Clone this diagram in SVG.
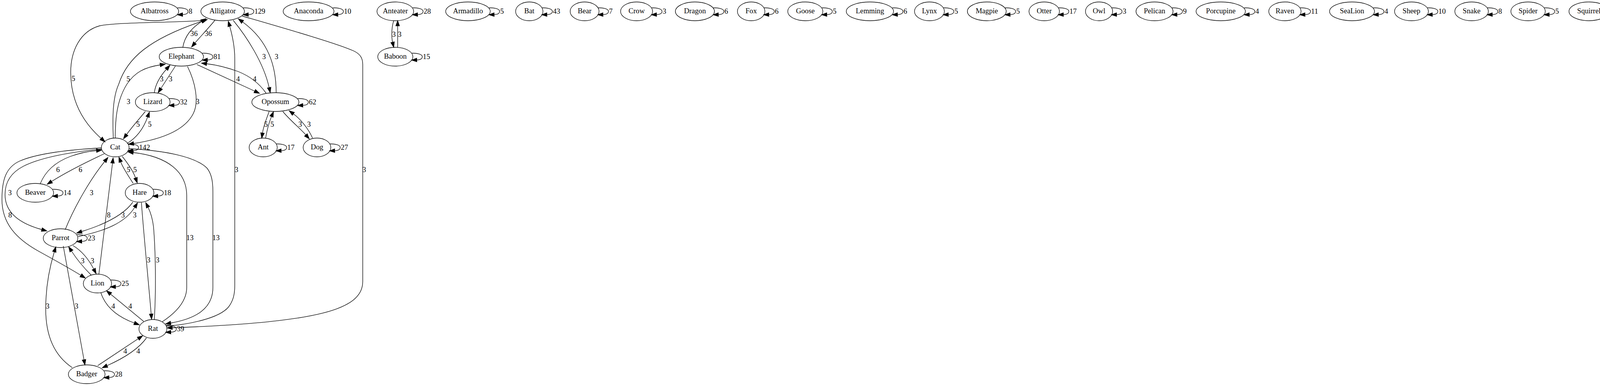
<svg xmlns="http://www.w3.org/2000/svg" xmlns:xlink="http://www.w3.org/1999/xlink" width="4503" height="987" viewBox="0 0 4503 987">
<style>
text{font-family:"Liberation Serif","Times New Roman",serif;font-size:18.67px;fill:#000}
.n ellipse{fill:none;stroke:#000;stroke-width:1.33}
.n text{text-anchor:middle}
.e path{fill:none;stroke:#000;stroke-width:1.33;marker-end:url(#ah)}
.el{text-anchor:middle}
.ll{text-anchor:start}
</style>
<defs>
<marker id="ah" viewBox="0 -5 14 10" refX="0" refY="0" markerWidth="14" markerHeight="10" markerUnits="userSpaceOnUse" orient="auto" overflow="visible"><path d="M0,-4.67L13.33,0L0,4.67z" fill="#000" stroke="#000" stroke-width="1.33"/></marker>
<path id="loop" d="M-3.3,-8.9C10.8,-9.5 24,-6.6 24,0C24,5 20,8 10,8.3" fill="none" stroke="#000" stroke-width="1.33" marker-end="url(#ah)"/>
</defs>
<rect width="4503" height="987" fill="#fff"/>
<g id="connectors" class="e">
<path d="M550,52C540,65 510,97 499,110"/><text class="el" x="533.3" y="92">36</text>
<path d="M468,121C473,92 490,72 516,55"/><text class="el" x="496.7" y="92">36</text>
<path d="M520,52C470,58 300,56 255,66C205,80 181,130 181,185C181,260 215,315 259,354"/><text class="el" x="188" y="207">5</text>
<path d="M290,353C288,300 288,250 304,215C325,150 380,100 518,54"/><text class="el" x="328.3" y="208">5</text>
<path d="M597,52C630,92 675,160 689,224"/><text class="el" x="676" y="151">3</text>
<path d="M707,237C707,170 688,105 621,56"/><text class="el" x="708" y="151">3</text>
<path d="M425,834C480,830 560,815 585,785C598,768 601,750 601,730L601,150C601,120 596,95 588,67"/><text class="el" x="605.5" y="440">3</text>
<path d="M620,41C720,70 860,110 905,130C922,138 928.6,148 928.6,165L928.6,720C928.6,790 820,825 441,838"/><text class="el" x="932.5" y="440">3</text>
<path d="M330,380C420,385 500,400 530,430C542,445 545,465 545,490L545,735C545,790 500,815 437,826"/><text class="el" x="553" y="614">13</text>
<path d="M415,823C450,800 478,770 478,735L478,500C478,440 430,400 341,390"/><text class="el" x="486.3" y="614">13</text>
<path d="M313,400C325,415 340,435 347,455"/><text class="el" x="345.7" y="440">5</text>
<path d="M341,469C330,452 315,430 309,414"/><text class="el" x="329" y="440">5</text>
<path d="M395,237C398,215 410,195 426,177"/><text class="el" x="414" y="208">3</text>
<path d="M449,169L412,226"/><text class="el" x="436.7" y="208">3</text>
<path d="M295,353C295,300 300,255 325,215C345,185 370,172 410,166"/><text class="el" x="329" y="266">3</text>
<path d="M480,170C500,210 510,260 495,290C475,330 420,355 342,367"/><text class="el" x="506" y="266">3</text>
<path d="M372,285C360,300 340,322 324,344"/><text class="el" x="353.3" y="324">5</text>
<path d="M325,367C345,355 365,335 378,299"/><text class="el" x="383.3" y="324">5</text>
<path d="M103,470C115,440 140,415 180,400C205,391 225,387 247,385"/><text class="el" x="148.3" y="440">6</text>
<path d="M267,393C220,415 170,440 132,464"/><text class="el" x="206" y="440">6</text>
<path d="M260,378C190,382 100,390 50,412C15,428 5,460 5,510C5,570 40,610 100,643C140,665 178,686 207,704"/><text class="el" x="26" y="556">8</text>
<path d="M260,381C190,388 110,400 60,425C25,443 12,470 13,500C14,540 45,570 107,587"/><text class="el" x="25.5" y="499">3</text>
<path d="M167,587C190,530 230,460 268,413"/><text class="el" x="234.3" y="499">3</text>
<path d="M253,702L288,417"/><text class="el" x="278.3" y="556">8</text>
<path d="M340,517C320,545 280,570 209,592"/><text class="el" x="315" y="556">3</text>
<path d="M200,605C270,590 320,570 345,530"/><text class="el" x="345" y="556">3</text>
<path d="M362,518C368,600 380,720 387,803"/><text class="el" x="380.5" y="671">3</text>
<path d="M395,817C400,740 398,640 393,580C390,555 384,540 379,530"/><text class="el" x="403.3" y="671">3</text>
<path d="M233,703C215,685 198,665 183,642"/><text class="el" x="211.7" y="673">3</text>
<path d="M187,628C210,642 228,665 240,688"/><text class="el" x="236.7" y="673">3</text>
<path d="M258,748C270,785 300,810 344,826"/><text class="el" x="290" y="789">4</text>
<path d="M368,822L283,752"/><text class="el" x="333.3" y="789">4</text>
<path d="M250,935L354,866"/><text class="el" x="320.7" y="904">4</text>
<path d="M375,864C360,885 330,910 274,935"/><text class="el" x="354" y="904">4</text>
<path d="M185,940C140,910 117,860 117,790C117,730 128,680 139,644"/><text class="el" x="122" y="789">3</text>
<path d="M162,629L215,920"/><text class="el" x="196" y="789">3</text>
<path d="M689,285C682,305 675,320 672,340"/><text class="el" x="681" y="324">5</text>
<path d="M680,353C684,330 690,310 695,298"/><text class="el" x="697" y="324">5</text>
<path d="M724,285C740,305 770,330 783,345"/><text class="el" x="768.5" y="324">3</text>
<path d="M800,353C790,330 770,305 751,291"/><text class="el" x="790.8" y="324">3</text>
<path d="M504,165L652,233"/><text class="el" x="609.5" y="208">4</text>
<path d="M681,238C665,215 640,195 610,183C580,172 555,166 529,163"/><text class="el" x="651.8" y="208">4</text>
<path d="M1008,53C1002,70 1002,95 1005,108"/><text class="el" x="1008.3" y="94">3</text>
<path d="M1018,121L1018,66"/><text class="el" x="1023.2" y="94">3</text>
<use href="#loop" x="457.4" y="29"/><text class="ll" x="482.9" y="35">8</text>
<use href="#loop" x="625.7" y="29"/><text class="ll" x="651.2" y="35">129</text>
<use href="#loop" x="855" y="29"/><text class="ll" x="880.5" y="35">10</text>
<use href="#loop" x="1059" y="29"/><text class="ll" x="1084.5" y="35">28</text>
<use href="#loop" x="1255" y="29"/><text class="ll" x="1280.5" y="35">5</text>
<use href="#loop" x="1390" y="29"/><text class="ll" x="1415.5" y="35">43</text>
<use href="#loop" x="1533.6" y="29"/><text class="ll" x="1559.1" y="35">7</text>
<use href="#loop" x="1670.7" y="29"/><text class="ll" x="1696.2" y="35">3</text>
<use href="#loop" x="1829" y="29"/><text class="ll" x="1854.5" y="35">6</text>
<use href="#loop" x="1958.2" y="29"/><text class="ll" x="1983.7" y="35">6</text>
<use href="#loop" x="2106.6" y="29"/><text class="ll" x="2132.1" y="35">5</text>
<use href="#loop" x="2287.5" y="29"/><text class="ll" x="2313" y="35">6</text>
<use href="#loop" x="2417.7" y="29"/><text class="ll" x="2443.2" y="35">5</text>
<use href="#loop" x="2575.9" y="29"/><text class="ll" x="2601.4" y="35">5</text>
<use href="#loop" x="2712.2" y="29"/><text class="ll" x="2737.7" y="35">17</text>
<use href="#loop" x="2848.4" y="29"/><text class="ll" x="2873.9" y="35">3</text>
<use href="#loop" x="3003" y="29"/><text class="ll" x="3028.5" y="35">9</text>
<use href="#loop" x="3188.2" y="29"/><text class="ll" x="3213.7" y="35">4</text>
<use href="#loop" x="3330.8" y="29"/><text class="ll" x="3356.3" y="35">11</text>
<use href="#loop" x="3518.7" y="29"/><text class="ll" x="3544.2" y="35">4</text>
<use href="#loop" x="3656.8" y="29"/><text class="ll" x="3682.3" y="35">10</text>
<use href="#loop" x="3810.3" y="29"/><text class="ll" x="3835.8" y="35">8</text>
<use href="#loop" x="3956" y="29"/><text class="ll" x="3981.5" y="35">5</text>
<use href="#loop" x="4118.6" y="29"/><text class="ll" x="4144.1" y="35">9</text>
<use href="#loop" x="4285.2" y="29"/><text class="ll" x="4310.7" y="35">8</text>
<use href="#loop" x="4448.5" y="29"/><text class="ll" x="4474" y="35">15</text>
<use href="#loop" x="521" y="145"/><text class="ll" x="546.5" y="151">81</text>
<use href="#loop" x="1057" y="145"/><text class="ll" x="1082.5" y="151">15</text>
<use href="#loop" x="435.5" y="261"/><text class="ll" x="461" y="267">32</text>
<use href="#loop" x="765.3" y="261"/><text class="ll" x="790.8" y="267">62</text>
<use href="#loop" x="330.5" y="377"/><text class="ll" x="356" y="383">142</text>
<use href="#loop" x="709.8" y="377"/><text class="ll" x="735.3" y="383">17</text>
<use href="#loop" x="846.9" y="377"/><text class="ll" x="872.4" y="383">27</text>
<use href="#loop" x="137.3" y="493"/><text class="ll" x="162.8" y="499">14</text>
<use href="#loop" x="394" y="493"/><text class="ll" x="419.5" y="499">18</text>
<use href="#loop" x="199.3" y="609"/><text class="ll" x="224.8" y="615">23</text>
<use href="#loop" x="285.7" y="725"/><text class="ll" x="311.2" y="731">25</text>
<use href="#loop" x="427.3" y="841"/><text class="ll" x="452.8" y="847">39</text>
<use href="#loop" x="269" y="957"/><text class="ll" x="294.5" y="963">28</text>
</g>
<g id="node-Albatross" class="n"><ellipse cx="395.7" cy="29" rx="61.7" ry="24"/><text x="395.7" y="34.3">Albatross</text></g>
<g id="node-Alligator" class="n"><ellipse cx="570" cy="29" rx="55.7" ry="24"/><text x="570" y="34.3">Alligator</text></g>
<g id="node-Anaconda" class="n"><ellipse cx="790" cy="29" rx="65" ry="24"/><text x="790" y="34.3">Anaconda</text></g>
<g id="node-Anteater" class="n"><ellipse cx="1012" cy="29" rx="47" ry="24"/><text x="1012" y="34.3">Anteater</text></g>
<g id="node-Armadillo" class="n"><ellipse cx="1198" cy="29" rx="57" ry="24"/><text x="1198" y="34.3">Armadillo</text></g>
<g id="node-Bat" class="n"><ellipse cx="1355" cy="29" rx="35" ry="24"/><text x="1355" y="34.3">Bat</text></g>
<g id="node-Bear" class="n"><ellipse cx="1496.6" cy="29" rx="37" ry="24"/><text x="1496.6" y="34.3">Bear</text></g>
<g id="node-Crow" class="n"><ellipse cx="1629.7" cy="29" rx="41" ry="24"/><text x="1629.7" y="34.3">Crow</text></g>
<g id="node-Dragon" class="n"><ellipse cx="1779" cy="29" rx="50" ry="24"/><text x="1779" y="34.3">Dragon</text></g>
<g id="node-Fox" class="n"><ellipse cx="1923" cy="29" rx="35.2" ry="24"/><text x="1923" y="34.3">Fox</text></g>
<g id="node-Goose" class="n"><ellipse cx="2061.6" cy="29" rx="45" ry="24"/><text x="2061.6" y="34.3">Goose</text></g>
<g id="node-Lemming" class="n"><ellipse cx="2227" cy="29" rx="60.5" ry="24"/><text x="2227" y="34.3">Lemming</text></g>
<g id="node-Lynx" class="n"><ellipse cx="2379.4" cy="29" rx="38.3" ry="24"/><text x="2379.4" y="34.3">Lynx</text></g>
<g id="node-Magpie" class="n"><ellipse cx="2526.2" cy="29" rx="49.7" ry="24"/><text x="2526.2" y="34.3">Magpie</text></g>
<g id="node-Otter" class="n"><ellipse cx="2673.2" cy="29" rx="39" ry="24"/><text x="2673.2" y="34.3">Otter</text></g>
<g id="node-Owl" class="n"><ellipse cx="2813.6" cy="29" rx="34.8" ry="24"/><text x="2813.6" y="34.3">Owl</text></g>
<g id="node-Pelican" class="n"><ellipse cx="2955.6" cy="29" rx="47.4" ry="24"/><text x="2955.6" y="34.3">Pelican</text></g>
<g id="node-Porcupine" class="n"><ellipse cx="3125.1" cy="29" rx="63.1" ry="24"/><text x="3125.1" y="34.3">Porcupine</text></g>
<g id="node-Raven" class="n"><ellipse cx="3289.4" cy="29" rx="41.4" ry="24"/><text x="3289.4" y="34.3">Raven</text></g>
<g id="node-SeaLion" class="n"><ellipse cx="3461.2" cy="29" rx="57.5" ry="24"/><text x="3461.2" y="34.3">SeaLion</text></g>
<g id="node-Sheep" class="n"><ellipse cx="3613.4" cy="29" rx="43.4" ry="24"/><text x="3613.4" y="34.3">Sheep</text></g>
<g id="node-Snake" class="n"><ellipse cx="3767.3" cy="29" rx="43" ry="24"/><text x="3767.3" y="34.3">Snake</text></g>
<g id="node-Spider" class="n"><ellipse cx="3911.9" cy="29" rx="44.1" ry="24"/><text x="3911.9" y="34.3">Spider</text></g>
<g id="node-Squirrel" class="n"><ellipse cx="4067.6" cy="29" rx="51" ry="24"/><text x="4067.6" y="34.3">Squirrel</text></g>
<g id="node-Tortoise" class="n"><ellipse cx="4232.2" cy="29" rx="53" ry="24"/><text x="4232.2" y="34.3">Tortoise</text></g>
<g id="node-Wallaby" class="n"><ellipse cx="4397.9" cy="29" rx="50.6" ry="24"/><text x="4397.9" y="34.3">Wallaby</text></g>
<g id="node-Elephant" class="n"><ellipse cx="464.3" cy="145" rx="56.7" ry="24"/><text x="464.3" y="150.3">Elephant</text></g>
<g id="node-Baboon" class="n"><ellipse cx="1012" cy="145" rx="45" ry="24"/><text x="1012" y="150.3">Baboon</text></g>
<g id="node-Lizard" class="n"><ellipse cx="391" cy="261" rx="44.5" ry="24"/><text x="391" y="266.3">Lizard</text></g>
<g id="node-Opossum" class="n"><ellipse cx="705" cy="261" rx="60.3" ry="24"/><text x="705" y="266.3">Opossum</text></g>
<g id="node-Cat" class="n"><ellipse cx="295" cy="377" rx="35.5" ry="24"/><text x="295" y="382.3">Cat</text></g>
<g id="node-Ant" class="n"><ellipse cx="673.8" cy="377" rx="36" ry="24"/><text x="673.8" y="382.3">Ant</text></g>
<g id="node-Dog" class="n"><ellipse cx="811.5" cy="377" rx="35.4" ry="24"/><text x="811.5" y="382.3">Dog</text></g>
<g id="node-Beaver" class="n"><ellipse cx="90.3" cy="493" rx="47" ry="24"/><text x="90.3" y="498.3">Beaver</text></g>
<g id="node-Hare" class="n"><ellipse cx="357.3" cy="493" rx="36.7" ry="24"/><text x="357.3" y="498.3">Hare</text></g>
<g id="node-Parrot" class="n"><ellipse cx="155" cy="609" rx="44.3" ry="24"/><text x="155" y="614.3">Parrot</text></g>
<g id="node-Lion" class="n"><ellipse cx="249.5" cy="725" rx="36.2" ry="24"/><text x="249.5" y="730.3">Lion</text></g>
<g id="node-Rat" class="n"><ellipse cx="391.5" cy="841" rx="35.8" ry="24"/><text x="391.5" y="846.3">Rat</text></g>
<g id="node-Badger" class="n"><ellipse cx="222" cy="957" rx="47" ry="24"/><text x="222" y="962.3">Badger</text></g>
</svg>
